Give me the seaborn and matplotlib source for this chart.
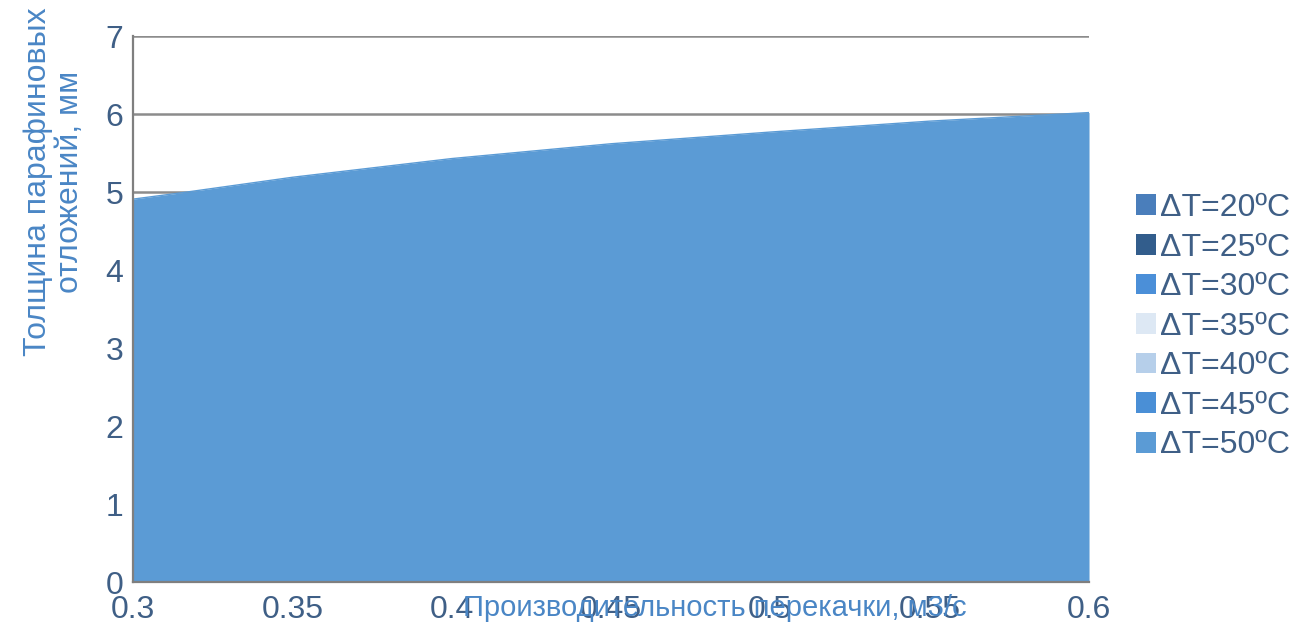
import matplotlib
matplotlib.use("Agg")
import matplotlib.pyplot as plt
from matplotlib.patches import Patch
import seaborn as sns
import pandas as pd

# Throughput, m3/s, and paraffin deposit thickness for the top (ΔT=50ºC) layer
flow = [0.30, 0.315, 0.35, 0.40, 0.45, 0.50, 0.55, 0.60]
thickness_dt50 = [4.91, 4.99, 5.19, 5.43, 5.62, 5.77, 5.91, 6.02]

series_labels = ["ΔT=20ºC", "ΔT=25ºC", "ΔT=30ºC", "ΔT=35ºC",
                 "ΔT=40ºC", "ΔT=45ºC", "ΔT=50ºC"]
series_colors = ["#4a7ebb", "#325d8c", "#4b8fd8", "#dde8f4",
                 "#b6cfea", "#4a8fd6", "#5b9bd5"]

x_ticks = [0.3, 0.35, 0.4, 0.45, 0.5, 0.55, 0.6]
x_tick_labels = ["0.3", "0.35", "0.4", "0.45", "0.5", "0.55", "0.6"]
y_ticks = [0, 1, 2, 3, 4, 5, 6, 7]

df = pd.DataFrame({"flow": flow, "thickness": thickness_dt50})

sns.set_theme(style="white")
plt.rcParams["font.family"] = ["Liberation Sans", "DejaVu Sans"]

text_color = "#3f5f86"
label_color = "#4a86c5"

fig = plt.figure(figsize=(12.98, 6.34), dpi=100)
ax = fig.add_axes([0.1025, 0.082, 0.7365, 0.861])

# horizontal grid behind the area
for yv in y_ticks[1:]:
    ax.axhline(yv, color="#8c8c8c", lw=1.8, zorder=0)

ax.fill_between(df["flow"], 0, df["thickness"], color=series_colors[-1],
                lw=0, zorder=2)
sns.lineplot(data=df, x="flow", y="thickness", ax=ax, color=series_colors[-1],
             lw=1.0, zorder=3)

ax.set_xlim(0.3, 0.6)
ax.set_ylim(0, 7)
ax.set_xticks(x_ticks)
ax.set_xticklabels(x_tick_labels)
ax.set_yticks(y_ticks)
ax.set_xlabel("")
ax.set_ylabel("")

for side in ["top", "right"]:
    ax.spines[side].set_visible(False)
for side in ["left", "bottom"]:
    ax.spines[side].set_color("#7f7f7f")
    ax.spines[side].set_linewidth(1.6)
    ax.spines[side].set_zorder(4)

ax.tick_params(axis="both", which="major", labelsize=23, labelcolor=text_color,
               color="#7f7f7f", width=1.4, direction="out")
ax.tick_params(axis="x", length=8, pad=1)
ax.tick_params(axis="y", length=7, pad=0)

fig.text(715 / 1298, 1 - 608 / 634, "Производительность перекачки, м3/с",
         ha="center", va="center", fontsize=21, color=label_color)
fig.text(54 / 1298, 1 - 182 / 634, "Толщина парафиновых\nотложений, мм",
         ha="center", va="center", rotation=90, fontsize=23,
         color=label_color, multialignment="center", linespacing=1.1)

handles = [Patch(facecolor=c, edgecolor="none", label=l)
           for c, l in zip(series_colors, series_labels)]
fig.legend(handles=handles, loc="upper left",
           bbox_to_anchor=(1136 / 1298, 1 - 193 / 634), frameon=False,
           fontsize=23, labelcolor=text_color, handlelength=0.62,
           handleheight=0.62, handletextpad=0.12, labelspacing=0.30,
           borderaxespad=0, borderpad=0)

fig.savefig("out.png", dpi=100)
